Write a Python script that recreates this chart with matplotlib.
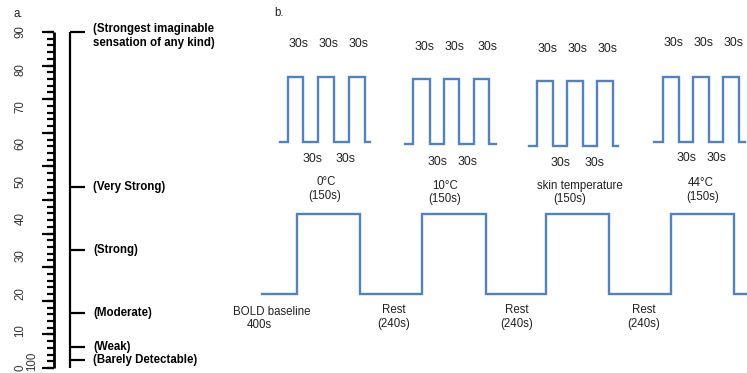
import numpy as np
import matplotlib
matplotlib.use("Agg")
import matplotlib.pyplot as plt

plt.rcParams['font.family'] = ['Liberation Sans', 'DejaVu Sans']

W, H = 747, 373
FS = 8.3
FS30 = 8.9
TXT = '#222222'
BLUE = '#4f83c6'

# ---------------- panel a data ----------------
scale_labels = [0, 10, 20, 30, 40, 50, 60, 70, 80, 90]
descriptors = ["(Strongest imaginable\nsensation of any kind)", "(Very Strong)", "(Strong)",
               "(Moderate)", "(Weak)", "(Barely Detectable)"]
descriptor_values = [100, 54, 35, 16.5, 6.3, 2.4]
ruler_major = list(range(0, 101, 10))
ruler_minor = list(range(0, 101, 2))

# ---------------- panel b data ----------------
main_edges = [262, 297, 360, 422, 486, 546, 609, 671, 734, 747]
main_levels = [0, 1, 0, 1, 0, 1, 0, 1, 0]
main_level_y = [294, 214]

block_edges = [
    [280, 288, 303, 318, 334, 349, 365, 370],
    [405, 413, 430, 444, 459, 474, 489, 496],
    [529, 537, 553, 567, 583, 597, 613, 618],
    [654, 663, 679, 693, 709, 723, 739, 745],
]
block_levels = [0, 1, 0, 1, 0, 1, 0]
block_low = [142, 144, 146, 142]
block_high = [77, 79, 81, 77]

on_label = "30s"
top_30s_x = [[299, 329, 359], [425, 455, 488], [548, 578, 608], [674, 704, 734]]
top_30s_y = [44, 47, 49, 43]
bottom_30s_x = [[313, 346], [438, 468], [561, 595], [687, 717]]
bottom_30s_y = [159, 162, 163, 158]

conditions = ["0°C", "10°C", "skin temperature", "44°C"]
cond_x = [326, 445, 580, 701]
cond_y = [182, 186, 186, 183]
stim_dur = "(150s)"
stim_dur_x = [325, 445, 570, 703]
stim_dur_y = [196, 199, 199, 197]

rest_x = [394, 517, 644]
rest_dur = "(240s)"

fig = plt.figure(figsize=(W / 100, H / 100), dpi=100)
fig.patch.set_facecolor('white')

# ---- ruler axes (0..100 gLMS), value 0 at pixel 368, 100 at pixel 32 ----
ax_r = fig.add_axes([0, (H - 368) / H, 250 / W, 336 / H])
ax_r.set_xlim(0, 250)
ax_r.set_ylim(0, 100)
ax_r.axis('off')
ax_r.vlines(54, 0, 100, color='black', lw=2.0, clip_on=False)
ax_r.hlines(ruler_minor, 47, 54, color='black', lw=1.6, clip_on=False)
ax_r.hlines(ruler_major, 42, 54, color='black', lw=1.6, clip_on=False)
ax_r.vlines(70, 0, 100, color='black', lw=1.6, clip_on=False)
ax_r.hlines(descriptor_values, 70, 85, color='black', lw=1.6, clip_on=False)
for lab, v in zip(descriptors, descriptor_values):
    if '\n' in lab:
        ax_r.text(93, v + 2.6, lab, ha='left', va='top', fontsize=FS, fontweight='bold',
                  color='black', linespacing=1.15, clip_on=False)
    else:
        ax_r.text(93, v, lab, ha='left', va='center', fontsize=FS, fontweight='bold',
                  color='black', clip_on=False)

# ---- tick label axis (0..90) ----
ax_l = fig.add_axes([28 / W, (H - 368) / H, 1 / W, 336 / H])
ax_l.set_ylim(0, 90)
ax_l.set_xticks([])
ax_l.set_yticks(scale_labels)
ax_l.set_yticklabels([str(v) for v in scale_labels], rotation=90, va='center',
                     fontsize=FS, color='#333333')
ax_l.tick_params(axis='y', length=0, pad=1)
for s in ax_l.spines.values():
    s.set_visible(False)
ax_l.patch.set_alpha(0)

# ---- overlay axes in pixel coordinates ----
ax = fig.add_axes([0, 0, 1, 1])
ax.set_xlim(0, W)
ax.set_ylim(H, 0)
ax.axis('off')
ax.patch.set_alpha(0)

ax.text(32, 361, "100", rotation=90, ha='center', va='center', fontsize=FS, color='#333333')
ax.text(18, 14, "a.", ha='center', va='center', fontsize=FS, color=TXT)
ax.text(279, 13, "b.", ha='center', va='center', fontsize=FS, color=TXT)

# main paradigm waveform
xs = np.repeat(main_edges, 2)[1:-1]
ys = np.repeat([main_level_y[l] for l in main_levels], 2)
ax.plot(xs, ys, color=BLUE, lw=1.7, solid_joinstyle='miter', clip_on=False)

# block waveforms
for i, edges in enumerate(block_edges):
    lv = [block_low[i], block_high[i]]
    bx = np.repeat(edges, 2)[1:-1]
    by = np.repeat([lv[l] for l in block_levels], 2)
    ax.plot(bx, by, color=BLUE, lw=1.7, solid_joinstyle='miter', clip_on=False)
    for x in top_30s_x[i]:
        ax.text(x, top_30s_y[i], on_label, ha='center', va='center', fontsize=FS30, color=TXT)
    for x in bottom_30s_x[i]:
        ax.text(x, bottom_30s_y[i], on_label, ha='center', va='center', fontsize=FS30, color=TXT)
    ax.text(cond_x[i], cond_y[i], conditions[i], ha='center', va='center', fontsize=FS, color=TXT)
    ax.text(stim_dur_x[i], stim_dur_y[i], stim_dur, ha='center', va='center', fontsize=FS, color=TXT)

ax.text(272, 312, "BOLD baseline", ha='center', va='center', fontsize=FS, color=TXT)
ax.text(259, 325, "400s", ha='center', va='center', fontsize=FS, color=TXT)
for x in rest_x:
    ax.text(x, 310, "Rest", ha='center', va='center', fontsize=FS, color=TXT)
    ax.text(x, 324, rest_dur, ha='center', va='center', fontsize=FS, color=TXT)

fig.savefig('out.png', dpi=100, facecolor='white')
